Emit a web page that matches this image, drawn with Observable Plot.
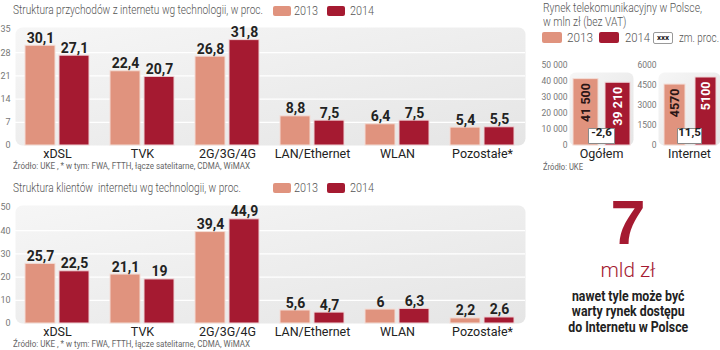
<!DOCTYPE html>
<html><head><meta charset="utf-8">
<script src="https://cdn.jsdelivr.net/npm/d3@7"></script>
<script src="https://cdn.jsdelivr.net/npm/@observablehq/plot@0.6"></script>
<style>
body{margin:0;background:#fff;}
#root{position:relative;width:720px;height:350px;overflow:hidden;font-family:Roboto,"Liberation Sans",sans-serif;}
.abs{position:absolute;white-space:nowrap;line-height:1;}
.title{font-size:12.5px;color:#555;font-weight:300;}
.src{font-size:9px;color:#666;}
.lg{font-size:13.5px;color:#555;font-weight:300;}
.sw{position:absolute;border-radius:2px;}
svg{position:absolute;}
</style></head><body><div id="root"></div>
<script>
// ---- data ----
const categories = ["xDSL","TVK","2G/3G/4G","LAN/Ethernet","WLAN","Pozostałe*"];
const revenue2013 = [30.1,22.4,26.8,8.8,6.4,5.4];
const revenue2014 = [27.1,20.7,31.8,7.5,7.5,5.5];
const revenueTicks = [0,7,14,21,28,35];
const clients2013 = [25.7,21.1,39.4,5.6,6,2.2];
const clients2014 = [22.5,19,44.9,4.7,6.3,2.6];
const clientTicks = [0,10,20,30,40,50];
const marketYears = ["2013","2014"];
const totalMarket = [41500,39210];
const totalChange = -2.6;
const totalTicks = [0,10000,20000,30000,40000,50000];
const internetMarket = [4570,5100];
const internetChange = 11.5;
const internetTicks = [0,1500,3000,4500,6000];

// ---- style ----
const FONT = 'Roboto,"Liberation Sans",sans-serif';
const C13 = "#e0937e", C14 = "#a51a31";
const root = document.getElementById("root");
const fmt = d => String(d).replace(".", ",");
const spaceFmt = d => d3.format(",")(d).replace(/,/g, " ");

function html(str, left, top, cls, extra){
  const d = document.createElement("div");
  d.className = "abs " + (cls||"");
  d.innerHTML = str;
  d.style.left = left + "px"; d.style.top = top + "px";
  if (extra) Object.assign(d.style, extra);
  root.appendChild(d); return d;
}
// compress text horizontally to the width it has in the (condensed-font) reference
function fit(el, w, center){
  const nat = el.getBoundingClientRect().width;
  if (!nat) return el;
  if (center !== undefined) {
    el.style.left = (center - nat/2) + "px";
    el.style.transformOrigin = "center top";
  } else {
    el.style.transformOrigin = "left top";
  }
  el.style.transform = `scaleX(${w/nat})`;
  return el;
}
function swatch(color, left, top, w, h){
  const d = document.createElement("div");
  d.className = "sw";
  Object.assign(d.style, {left:left+"px", top:top+"px", width:w+"px", height:h+"px", background:color});
  root.appendChild(d); return d;
}
let gid = 0;
function gradientId(){ return "pg" + (++gid); }
function addGradient(svg, id){
  svg.insertAdjacentHTML("afterbegin",
    `<defs><linearGradient id="${id}" x1="0" y1="0" x2="1" y2="1"><stop offset="0" stop-color="#f6f6f6"/><stop offset="1" stop-color="#e5e5e5"/></linearGradient></defs>`);
}
function put(svg, left, top){ svg.style.left = left+"px"; svg.style.top = top+"px"; root.appendChild(svg); }

function groupChart(v13, v14, ticks){
  const rows = categories.map((c,i)=>({cat:c, a:v13[i], b:v14[i]}));
  const max = ticks[ticks.length-1];
  const id = gradientId();
  const svg = Plot.plot({
    width:530, height:145, marginLeft:15, marginRight:5, marginTop:7, marginBottom:20,
    style:{fontFamily:FONT, background:"transparent", overflow:"visible"},
    x:{type:"band", domain:categories, paddingInner:0.25, paddingOuter:0, insetLeft:9, insetRight:10, axis:null},
    y:{domain:[0,max], insetTop:2, axis:null},
    marks:[
      Plot.frame({fill:`url(#${id})`, stroke:"none", rx:7}),
      Plot.ruleY(ticks.filter(t=>t>0 && t<max), {stroke:"#fff", strokeWidth:1.2}),
      Plot.text(ticks, {y:d=>d, frameAnchor:"left", dx:-5, textAnchor:"end", fontSize:9, fill:"#777", text:d=>String(d)}),
      Plot.barY(rows, {x:"cat", y:"a", fill:C13, stroke:"#f3dcd5", strokeWidth:1, insetRight:34}),
      Plot.barY(rows, {x:"cat", y:"b", fill:C14, stroke:"#efd3d6", strokeWidth:1, insetLeft:34}),
      Plot.text(rows, {x:"cat", y:"a", text:d=>fmt(d.a), dx:-17, dy:-3, lineAnchor:"bottom", fontSize:14, fontWeight:"bold", fill:"#222"}),
      Plot.text(rows, {x:"cat", y:"b", text:d=>fmt(d.b), dx:17, dy:-3, lineAnchor:"bottom", fontSize:14, fontWeight:"bold", fill:"#222"}),
      Plot.text(categories, {x:d=>d, frameAnchor:"bottom", dy:3.5, lineAnchor:"top", fontSize:12.5, fill:"#222", text:d=>d})
    ]
  });
  addGradient(svg, id);
  return svg;
}

function boxSymbol(w, h){
  return {draw(ctx){ ctx.rect(-w/2, -h/2, w, h); }};
}

function marketChart(values, change, ticks, o){
  const rows = marketYears.map((y,i)=>({year:y, v:values[i]}));
  const max = ticks[ticks.length-1];
  const id = gradientId();
  const svg = Plot.plot({
    width:o.width, height:105, marginLeft:o.ml, marginRight:o.mr, marginTop:12, marginBottom:20,
    style:{fontFamily:FONT, background:"transparent", overflow:"visible"},
    x:{type:"band", domain:marketYears, paddingInner:o.pad, paddingOuter:0, insetLeft:o.il, insetRight:o.ir, axis:null},
    y:{domain:[0,max], insetTop:-7, axis:null},
    color:{type:"identity"},
    marks:[
      Plot.frame({fill:`url(#${id})`, stroke:"none", rx:6}),
      Plot.text(ticks, {y:d=>d, frameAnchor:"left", dx:-2, textAnchor:"end", fontSize:8.5, fill:"#777", text:o.tickFmt}),
      Plot.barY(rows, {x:"year", y:"v", fill:d=>d.year==="2013"?C13:C14, stroke:d=>d.year==="2013"?"#f3dcd5":"#efd3d6", strokeWidth:1}),
      Plot.text(rows, {x:"year", y:"v", text:d=>o.valFmt(d.v), rotate:-90, textAnchor:"end", dy:4, fontSize:12.5, fontWeight:"bold", fill:d=>d.year==="2013"?"#2a1515":"#ffffff"}),
      Plot.dot([change], {frameAnchor:"bottom", dy:-9.5, symbol:boxSymbol(o.boxW,15), fill:"#fff", stroke:"#8a8a8a", strokeWidth:1}),
      Plot.text([change], {frameAnchor:"bottom", dy:-9.5, text:d=>fmt(d), fontSize:11.5, fontWeight:"bold", fill:"#222"}),
      Plot.text([o.label], {frameAnchor:"bottom", dy:3.5, lineAnchor:"top", fontSize:12.5, fill:"#222", text:d=>d})
    ]
  });
  addGradient(svg, id);
  return svg;
}

// ---- top chart ----
fit(html("Struktura przychodów z internetu wg technologii, w proc.", 13, 4, "title"), 250);
swatch(C13, 273, 6, 18, 10); fit(html("2013", 294, 3.5, "lg"), 24);
swatch(C14, 327, 6, 18, 10); fit(html("2014", 350, 3.5, "lg"), 24);
put(groupChart(revenue2013, revenue2014, revenueTicks), 0, 20);
fit(html("Źródło: UKE , * w tym: FWA, FTTH, łącze satelitarne, CDMA, WiMAX", 13, 162, "src"), 237);

// ---- bottom chart ----
fit(html("Struktura klientów &nbsp;internetu wg technologii, w proc.", 13, 182, "title"), 228);
swatch(C13, 273, 183, 18, 10); fit(html("2013", 294, 180.5, "lg"), 24);
swatch(C14, 327, 183, 18, 10); fit(html("2014", 350, 180.5, "lg"), 24);
put(groupChart(clients2013, clients2014, clientTicks), 0, 198);
fit(html("Źródło: UKE , * w tym: FWA, FTTH, łącze satelitarne, CDMA, WiMAX", 13, 340, "src"), 237);

// ---- right side ----
fit(html("Rynek telekomunikacyjny w Polsce,<br>w mln zł (bez VAT)", 543, 0.5, "title", {lineHeight:"14px", fontSize:"12.5px"}), 159);
swatch(C13, 542, 32, 20, 11); fit(html("2013", 567, 30.5, "lg", {fontSize:"13.5px"}), 26);
swatch(C14, 599, 32, 20, 11); fit(html("2014", 625, 30.5, "lg", {fontSize:"13.5px"}), 25);
html("xxx", 653, 32, "", {width:"18px", height:"10px", border:"1px solid #999", borderRadius:"2px", fontSize:"8px", fontWeight:"bold", color:"#222", textAlign:"center", lineHeight:"10px"});
fit(html("zm. proc.", 679, 30.5, "lg", {fontSize:"13.5px"}), 40);

put(marketChart(totalMarket, totalChange, totalTicks, {width:115, ml:49, mr:2, pad:0.215, il:4, ir:2, boxW:26, label:"Ogółem", tickFmt:d=>d===0?"0":spaceFmt(d), valFmt:spaceFmt}), 520, 60);
put(marketChart(internetMarket, internetChange, internetTicks, {width:90, ml:28, mr:0, pad:0.32, il:6, ir:3, boxW:24, label:"Internet", tickFmt:d=>String(d), valFmt:d=>String(d)}), 630, 60);
fit(html("Źródło: UKE", 543, 163, "src"), 40);

// ---- callout ----
html("7", 560, 191, "", {width:"136px", textAlign:"center", fontFamily:'"Liberation Sans",Arial,sans-serif', fontWeight:"bold", fontSize:"63px", color:C14});
fit(html("mld zł", 600, 260, "", {fontFamily:'Roboto,"Liberation Sans",sans-serif', fontWeight:"300", fontSize:"21px", color:C14}), 55, 628);
fit(html("nawet tyle może być<br>warty rynek dostępu<br>do Internetu w Polsce", 560, 288.5, "", {textAlign:"center", fontWeight:"bold", fontSize:"14px", lineHeight:"15.5px", color:"#222"}), 120, 628);
</script></body></html>
